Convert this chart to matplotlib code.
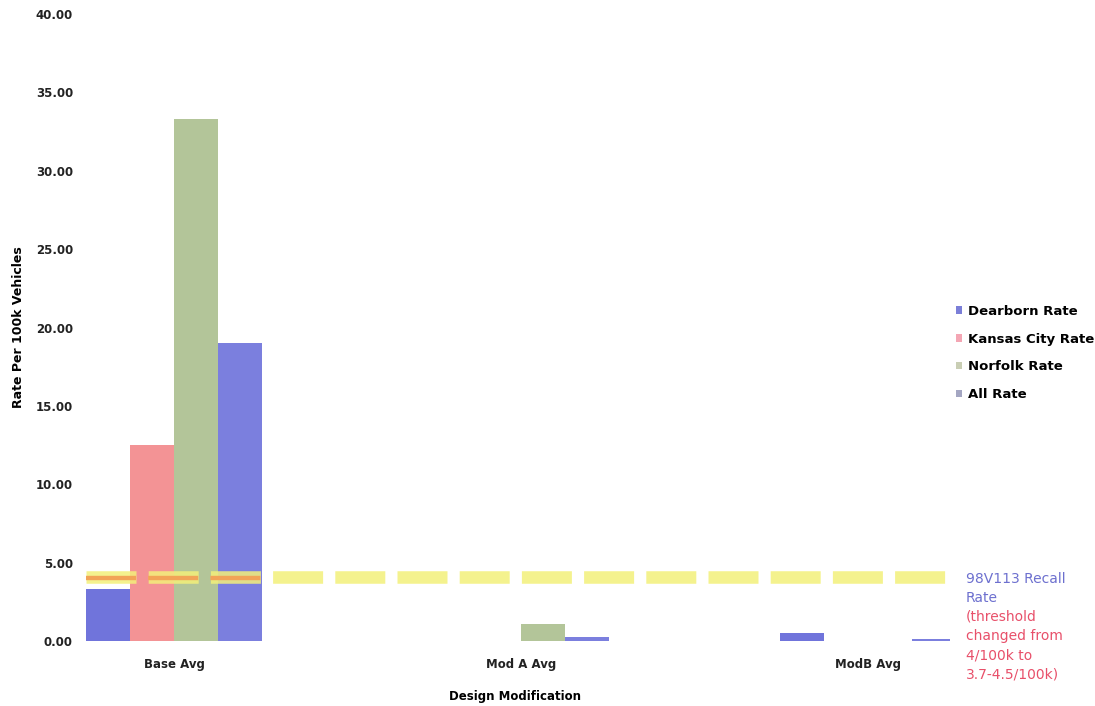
import matplotlib
matplotlib.use("Agg")
import matplotlib.pyplot as plt
import numpy as np
from matplotlib.patches import Patch

plt.rcParams['font.family'] = ['DejaVu Sans']

categories = ["Base Avg", "Mod A Avg", "ModB Avg"]
series_names = ["Dearborn Rate", "Kansas City Rate", "Norfolk Rate", "All Rate"]
dearborn = [3.3, 0.0, 0.5]
kansas_city = [12.5, 0.0, 0.0]
norfolk = [33.3, 1.1, 0.0]
all_rate = [19.0, 0.25, 0.1]
threshold_low = 3.7
threshold_high = 4.5
yticks = [0, 5, 10, 15, 20, 25, 30, 35, 40]

bar_colors = ["#6468d8", "#f28a8c", "#adc090", "#7074dc"]
legend_colors = ["#7b7fd8", "#f4a6b4", "#c9ceb4", "#a4a6c2"]

fig = plt.figure(figsize=(10.95, 7.06), dpi=100)
ax = fig.add_axes([0.073, 0.0921, 0.7945, 0.888])

x = np.arange(len(categories))
width = 0.127
values = [dearborn, kansas_city, norfolk, all_rate]
for i, (vals, col) in enumerate(zip(values, bar_colors)):
    offs = (i - 1.5) * width
    ax.bar(x + offs, vals, width=width * 0.99, color=col, alpha=0.92,
           linewidth=0, zorder=2)

# recall threshold band, drawn as a thick dashed line
thr = (threshold_low + threshold_high) / 2
px_per_unit = 627 / 40
band_pts = (threshold_high - threshold_low) * px_per_unit * 0.72
dash_on = 50 * 0.72 / band_pts
dash_off = 12.2 * 0.72 / band_pts
xl, xr = x[0] - 2 * width, x[-1] + 1.75 * width
ax.plot([xl, xr], [thr, thr], color="#f3f07a", lw=band_pts, alpha=0.85,
        dashes=(dash_on, dash_off), solid_capstyle="butt", dash_capstyle="butt",
        zorder=3)
# highlighted segment across the base group
o_lw = band_pts * 0.35
ax.plot([x[0] - 2 * width, x[0] + 2 * width], [thr - 0.05, thr - 0.05],
        color="#f2a457", lw=o_lw, dashes=(50 * 0.72 / o_lw, 12.2 * 0.72 / o_lw),
        dash_capstyle="butt", zorder=4)

ax.set_xlim(-0.271, 2.236)
ax.set_ylim(0, 40)
ax.set_yticks(yticks)
ax.set_yticklabels([f"{v:.2f}" for v in yticks], fontsize=8.5, fontweight="bold",
                   color="#222222")
ax.set_xticks(x)
ax.set_xticklabels(categories, fontsize=8.5, fontweight="bold", color="#222222")
ax.tick_params(axis='x', length=0, pad=12)
ax.tick_params(axis='y', length=0, pad=5)
for s in ax.spines.values():
    s.set_visible(False)

ax.set_ylabel("Rate Per 100k Vehicles", fontsize=9, fontweight="bold", labelpad=8)
ax.set_xlabel("Design Modification", fontsize=8.5, fontweight="bold", labelpad=14)

handles = [Patch(facecolor=c, edgecolor="none") for c in legend_colors]
fig.legend(handles, series_names, loc="upper left", bbox_to_anchor=(0.862, 0.585),
           frameon=False, prop={"size": 9.5, "weight": "bold"}, handlelength=0.5,
           handleheight=0.5, handletextpad=0.4, labelspacing=1.12)

fig.text(0.882, 0.190, "98V113 Recall\nRate", color="#6d70cf", fontsize=10,
         va="top", ha="left", linespacing=1.48)
fig.text(0.882, 0.136, "(threshold\nchanged from\n4/100k to\n3.7-4.5/100k)",
         color="#e8506a", fontsize=10, va="top", ha="left", linespacing=1.48)

fig.savefig("out.png", dpi=100, facecolor="white")
